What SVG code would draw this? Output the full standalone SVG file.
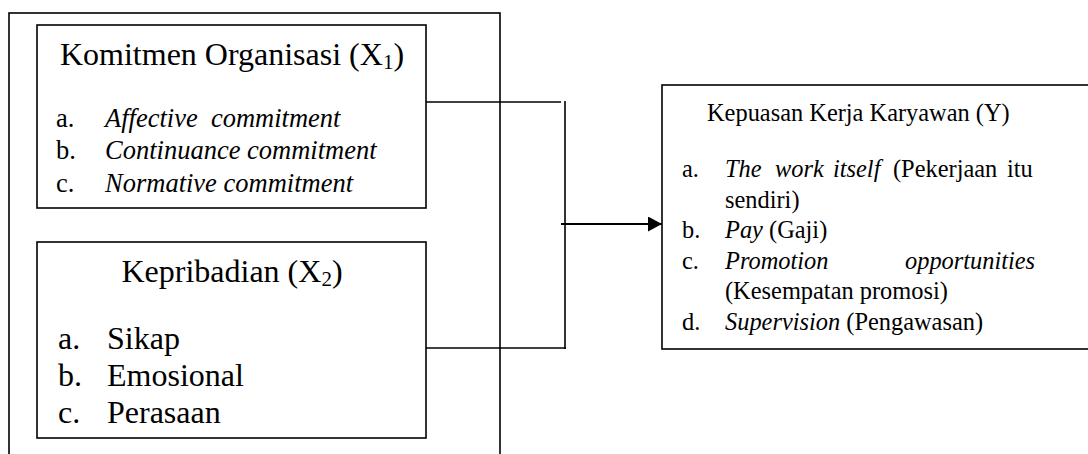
<svg xmlns="http://www.w3.org/2000/svg" width="1088" height="454" viewBox="0 0 1088 454">
<style>
.box{fill:none;stroke:#000;stroke-width:1.6}
.ln{fill:none;stroke:#000;stroke-width:1.6}
.arrow{fill:none;stroke:#000;stroke-width:2.2}
text{font-family:"Liberation Serif","Times New Roman",serif;fill:#000}
.t32{font-size:32px}
.t26{font-size:26.5px}
.t24{font-size:24.4px}
.i{font-style:italic}
</style>
<defs>
<marker id="arr" markerWidth="14" markerHeight="15" refX="14" refY="7.5" orient="auto" markerUnits="userSpaceOnUse">
<path d="M0,0 L14,7.5 L0,15 Z" fill="#000"/>
</marker>
</defs>
<rect id="outer" class="box" x="9" y="13" width="491" height="460"/>
<g id="x1">
<rect class="box" x="37" y="25" width="389" height="183"/>
<text class="t32" x="232" y="65" text-anchor="middle">Komitmen Organisasi (X<tspan font-size="21" dy="4">1</tspan><tspan dy="-4">)</tspan></text>
<text class="t26" x="56" y="127">a.</text><text class="t26 i" x="105" y="127" xml:space="preserve">Affective  commitment</text>
<text class="t26" x="56" y="159">b.</text><text class="t26 i" x="105" y="159">Continuance commitment</text>
<text class="t26" x="56" y="192">c.</text><text class="t26 i" x="105" y="192">Normative commitment</text>
</g>
<g id="x2">
<rect class="box" x="37" y="242" width="389" height="196"/>
<text class="t32" x="232" y="282" text-anchor="middle">Kepribadian (X<tspan font-size="21" dy="4">2</tspan><tspan dy="-4">)</tspan></text>
<text class="t32" x="58" y="349">a.</text><text class="t32" x="107" y="349">Sikap</text>
<text class="t32" x="58" y="386">b.</text><text class="t32" x="107" y="386">Emosional</text>
<text class="t32" x="58" y="423">c.</text><text class="t32" x="107" y="423">Perasaan</text>
</g>
<g id="y">
<rect class="box" x="662" y="85" width="440" height="264"/>
<text class="t24" x="707" y="121">Kepuasan Kerja Karyawan (Y)</text>
<text class="t24" x="682" y="177">a.</text>
<text class="t24" y="177"><tspan class="i" x="725">The</tspan><tspan class="i" x="775">work</tspan><tspan class="i" x="833">itself</tspan><tspan x="893">(Pekerjaan</tspan><tspan x="1007">itu</tspan></text>
<text class="t24" x="725" y="207.6">sendiri)</text>
<text class="t24" x="682" y="238.2">b.</text>
<text class="t24" x="725" y="238.2"><tspan class="i">Pay</tspan> (Gaji)</text>
<text class="t24" x="682" y="268.8">c.</text>
<text class="t24 i" y="268.8"><tspan x="725">Promotion</tspan><tspan x="905">opportunities</tspan></text>
<text class="t24" x="725" y="299.4">(Kesempatan promosi)</text>
<text class="t24" x="682" y="330">d.</text>
<text class="t24" x="725" y="330"><tspan class="i">Supervision</tspan> (Pengawasan)</text>
</g>
<g id="connectors">
<path class="ln" d="M426,102 H561"/>
<path class="ln" d="M565,101 V349"/>
<path class="ln" d="M426,348 H566"/>
<path class="arrow" d="M561,224 H662" marker-end="url(#arr)"/>
</g>
</svg>
